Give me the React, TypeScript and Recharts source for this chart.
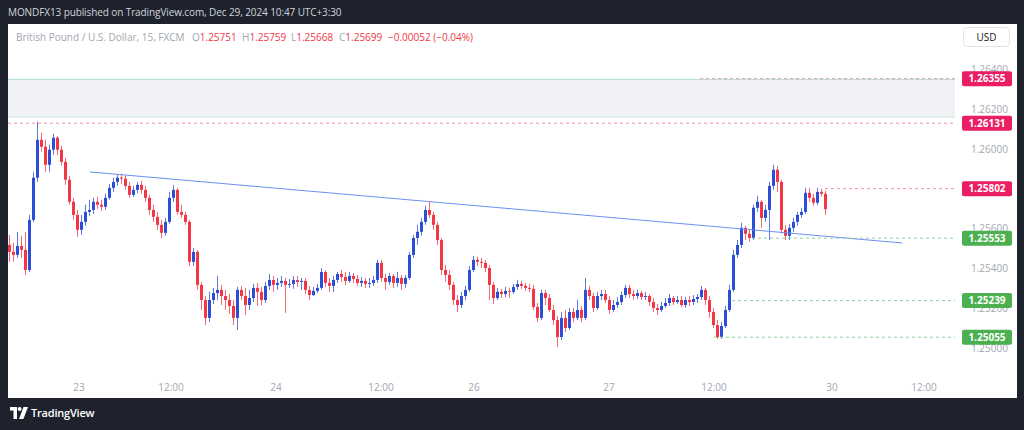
import React from "react";
import { ComposedChart, Bar, XAxis, YAxis, ReferenceLine, ReferenceArea } from "recharts";

// GBPUSD 15m, FXCM — candles as [open, high, low, close], one list per session
type Ohlc = [number, number, number, number];

const DEC22: Ohlc[] = [
  [1.25519, 1.2557, 1.25434, 1.25484], [1.25484, 1.25529, 1.25434, 1.25469], [1.25469, 1.25585, 1.25454, 1.25514],
  [1.25514, 1.25565, 1.25454, 1.25494], [1.25494, 1.25585, 1.25368, 1.25393], [1.25393, 1.2567, 1.25383, 1.25645],
  [1.25645, 1.25887, 1.25635, 1.25857], [1.25857, 1.26139, 1.25836, 1.26048], [1.26048, 1.26083, 1.25988, 1.26013],
  [1.26013, 1.26048, 1.25887, 1.25922], [1.25922, 1.26023, 1.25887, 1.25998], [1.25998, 1.26078, 1.25972, 1.26058],
  [1.26058, 1.26068, 1.25972, 1.25998], [1.25998, 1.26018, 1.25917, 1.25937], [1.25937, 1.25957, 1.25821, 1.25847],
  [1.25847, 1.25867, 1.25721, 1.25736], [1.25736, 1.25756, 1.25645, 1.2567],
];

const DEC23: Ohlc[] = [
  [1.2567, 1.25695, 1.2556, 1.25595], [1.25595, 1.2567, 1.2557, 1.25635], [1.25635, 1.25721, 1.25615, 1.25685],
  [1.25685, 1.25746, 1.25665, 1.25695], [1.25695, 1.25756, 1.25675, 1.25736], [1.25736, 1.25761, 1.257, 1.25721],
  [1.25721, 1.25746, 1.2569, 1.25711], [1.25711, 1.25776, 1.25695, 1.25756], [1.25756, 1.25826, 1.25746, 1.25806],
  [1.25806, 1.25857, 1.25786, 1.25836], [1.25836, 1.25872, 1.25816, 1.25857], [1.25857, 1.25877, 1.25826, 1.25852],
  [1.25852, 1.25867, 1.25796, 1.25816], [1.25816, 1.25836, 1.25756, 1.25771], [1.25771, 1.25816, 1.25761, 1.25796],
  [1.25796, 1.25836, 1.25781, 1.25821], [1.25821, 1.25842, 1.25776, 1.25796], [1.25796, 1.25816, 1.25736, 1.25756],
  [1.25756, 1.25771, 1.2567, 1.25695], [1.25695, 1.25721, 1.25635, 1.2566], [1.2566, 1.25685, 1.25595, 1.2562],
  [1.2562, 1.25645, 1.25554, 1.2558], [1.2558, 1.25655, 1.25565, 1.25635], [1.25635, 1.25786, 1.25625, 1.25756],
  [1.25756, 1.25821, 1.25736, 1.25796], [1.25796, 1.25806, 1.2567, 1.25685], [1.25685, 1.25721, 1.25655, 1.2567],
  [1.2567, 1.25685, 1.2562, 1.25635], [1.25635, 1.25645, 1.25413, 1.25434], [1.25434, 1.25504, 1.25413, 1.25484],
  [1.25484, 1.25494, 1.25293, 1.25318], [1.25318, 1.25333, 1.25192, 1.25242], [1.25242, 1.25262, 1.25116, 1.25152],
  [1.25152, 1.25283, 1.25131, 1.25242], [1.25242, 1.25303, 1.25222, 1.25277], [1.25277, 1.25363, 1.25242, 1.25293],
  [1.25293, 1.25318, 1.25217, 1.25262], [1.25262, 1.25293, 1.25192, 1.25242], [1.25242, 1.25272, 1.25172, 1.25212],
  [1.25212, 1.25242, 1.25116, 1.25152], [1.25152, 1.25308, 1.25091, 1.25293], [1.25293, 1.25313, 1.25242, 1.25262],
  [1.25262, 1.25303, 1.25167, 1.25217], [1.25217, 1.25293, 1.25192, 1.25252], [1.25252, 1.25323, 1.25232, 1.25303],
  [1.25303, 1.25328, 1.25212, 1.25283], [1.25283, 1.25308, 1.25217, 1.25242], [1.25242, 1.25333, 1.25227, 1.25313],
  [1.25313, 1.25373, 1.25293, 1.25343], [1.25343, 1.25363, 1.25283, 1.25318],
];

const DEC24: Ohlc[] = [
  [1.25318, 1.25353, 1.25293, 1.25328], [1.25328, 1.25363, 1.25308, 1.25338], [1.25338, 1.25353, 1.25177, 1.25318],
  [1.25318, 1.25348, 1.25303, 1.25323], [1.25323, 1.25363, 1.25298, 1.25343], [1.25343, 1.25363, 1.25308, 1.25333],
  [1.25333, 1.25353, 1.25293, 1.25338], [1.25338, 1.25353, 1.25272, 1.25293], [1.25293, 1.25313, 1.25242, 1.25267],
  [1.25267, 1.25308, 1.25262, 1.25288], [1.25288, 1.25323, 1.25277, 1.25303], [1.25303, 1.25403, 1.25293, 1.25383],
  [1.25383, 1.25393, 1.25308, 1.25328], [1.25328, 1.25353, 1.25283, 1.25313], [1.25313, 1.25363, 1.25283, 1.25343],
  [1.25343, 1.25383, 1.25328, 1.25373], [1.25373, 1.25393, 1.25333, 1.25358], [1.25358, 1.25383, 1.25318, 1.25338],
  [1.25338, 1.25383, 1.25328, 1.25363], [1.25363, 1.25378, 1.25328, 1.25348], [1.25348, 1.25368, 1.25313, 1.25328],
  [1.25328, 1.25358, 1.25308, 1.25338], [1.25338, 1.25353, 1.25303, 1.25323], [1.25323, 1.25353, 1.25303, 1.25328],
  [1.25328, 1.25363, 1.25313, 1.25343], [1.25343, 1.25444, 1.25328, 1.25429], [1.25429, 1.25444, 1.25333, 1.25353],
  [1.25353, 1.25373, 1.25293, 1.25333], [1.25333, 1.25378, 1.25318, 1.25363], [1.25363, 1.25373, 1.25303, 1.25328],
  [1.25328, 1.25383, 1.25308, 1.25353], [1.25353, 1.25368, 1.25293, 1.25323], [1.25323, 1.25368, 1.25303, 1.25353],
  [1.25353, 1.25484, 1.25343, 1.25469], [1.25469, 1.2557, 1.25454, 1.25554], [1.25554, 1.2562, 1.25519, 1.25585],
  [1.25585, 1.25655, 1.25565, 1.25635], [1.25635, 1.25716, 1.2562, 1.25695], [1.25695, 1.25736, 1.25655, 1.2567],
  [1.2567, 1.25685, 1.25595, 1.2562], [1.2562, 1.25635, 1.25519, 1.25544], [1.25544, 1.25554, 1.25368, 1.25393],
  [1.25393, 1.25418, 1.25333, 1.25368], [1.25368, 1.25393, 1.25293, 1.25318], [1.25318, 1.25333, 1.25217, 1.25242],
  [1.25242, 1.25267, 1.25182, 1.25217], [1.25217, 1.25283, 1.25202, 1.25262], [1.25262, 1.25313, 1.25242, 1.25293],
  [1.25293, 1.25413, 1.25283, 1.25393],
];

const DEC26: Ohlc[] = [
  [1.25393, 1.25464, 1.25383, 1.25444], [1.25444, 1.25459, 1.25413, 1.25434], [1.25434, 1.25454, 1.25403, 1.25429],
  [1.25429, 1.25444, 1.25383, 1.25403], [1.25403, 1.25418, 1.25242, 1.25318], [1.25318, 1.25333, 1.25222, 1.25252],
  [1.25252, 1.25303, 1.25242, 1.25283], [1.25283, 1.25298, 1.25252, 1.25272], [1.25272, 1.25308, 1.25257, 1.25288],
  [1.25288, 1.25303, 1.25252, 1.25283], [1.25283, 1.25323, 1.25272, 1.25308], [1.25308, 1.25343, 1.25293, 1.25323],
  [1.25323, 1.25338, 1.25298, 1.25313], [1.25313, 1.25328, 1.25288, 1.25303], [1.25303, 1.25323, 1.25283, 1.25298],
  [1.25298, 1.25318, 1.25192, 1.25207], [1.25207, 1.25227, 1.25131, 1.25152], [1.25152, 1.25293, 1.25141, 1.25277],
  [1.25277, 1.25293, 1.25217, 1.25252], [1.25252, 1.25272, 1.25182, 1.25192], [1.25192, 1.25217, 1.25116, 1.25141],
  [1.25141, 1.25162, 1.25006, 1.25056], [1.25056, 1.25182, 1.25041, 1.25152], [1.25152, 1.25192, 1.25081, 1.25101],
  [1.25101, 1.25202, 1.25091, 1.25182], [1.25182, 1.25202, 1.25131, 1.25152], [1.25152, 1.25242, 1.25141, 1.25192],
  [1.25192, 1.25212, 1.25131, 1.25152], [1.25152, 1.25353, 1.25141, 1.25293], [1.25293, 1.25313, 1.25242, 1.25262],
  [1.25262, 1.25277, 1.25182, 1.25202], [1.25202, 1.25283, 1.25192, 1.25262], [1.25262, 1.25293, 1.25242, 1.25272],
  [1.25272, 1.25293, 1.25227, 1.25242],
];

const DEC27: Ohlc[] = [
  [1.25242, 1.25262, 1.25172, 1.25192], [1.25192, 1.25242, 1.25182, 1.25217], [1.25217, 1.25257, 1.25202, 1.25232],
  [1.25232, 1.25283, 1.25217, 1.25267], [1.25267, 1.25318, 1.25252, 1.25303], [1.25303, 1.25318, 1.25252, 1.25272],
  [1.25272, 1.25293, 1.25242, 1.25262], [1.25262, 1.25293, 1.25247, 1.25277], [1.25277, 1.25288, 1.25242, 1.25257],
  [1.25257, 1.25283, 1.25242, 1.25262], [1.25262, 1.25272, 1.25212, 1.25232], [1.25232, 1.25252, 1.25182, 1.25202],
  [1.25202, 1.25222, 1.25167, 1.25192], [1.25192, 1.25232, 1.25182, 1.25212], [1.25212, 1.25252, 1.25202, 1.25227],
  [1.25227, 1.25272, 1.25212, 1.25252], [1.25252, 1.25262, 1.25217, 1.25232], [1.25232, 1.25262, 1.25222, 1.25242],
  [1.25242, 1.25262, 1.25207, 1.25217], [1.25217, 1.25257, 1.25202, 1.25242], [1.25242, 1.25262, 1.25212, 1.25232],
  [1.25232, 1.25267, 1.25217, 1.25247], [1.25247, 1.25272, 1.25227, 1.25257], [1.25257, 1.25313, 1.25242, 1.25293],
  [1.25293, 1.25303, 1.25217, 1.25242], [1.25242, 1.25262, 1.25152, 1.25182], [1.25182, 1.25202, 1.25101, 1.25116],
  [1.25116, 1.25141, 1.25046, 1.25056], [1.25056, 1.25131, 1.25046, 1.25111], [1.25111, 1.25212, 1.25101, 1.25192],
  [1.25192, 1.25318, 1.25182, 1.25293], [1.25293, 1.25494, 1.25283, 1.25469], [1.25469, 1.25544, 1.25454, 1.25519],
  [1.25519, 1.2563, 1.25504, 1.25605], [1.25605, 1.25615, 1.25544, 1.25575], [1.25575, 1.25595, 1.25534, 1.25554],
  [1.25554, 1.25721, 1.25544, 1.25706], [1.25706, 1.25766, 1.25685, 1.25736], [1.25736, 1.25746, 1.25605, 1.25655],
  [1.25655, 1.25721, 1.25635, 1.25695], [1.25695, 1.25836, 1.25544, 1.25816], [1.25816, 1.25922, 1.25796, 1.25897],
  [1.25897, 1.25917, 1.25786, 1.25836], [1.25836, 1.25847, 1.25575, 1.25595], [1.25595, 1.2562, 1.25544, 1.25565],
  [1.25565, 1.25625, 1.25544, 1.25605], [1.25605, 1.25655, 1.25585, 1.25635], [1.25635, 1.25685, 1.25615, 1.2567],
  [1.2567, 1.25706, 1.25655, 1.25685], [1.25685, 1.25806, 1.25675, 1.25781], [1.25781, 1.25806, 1.25736, 1.25756],
  [1.25756, 1.25776, 1.25716, 1.25731], [1.25731, 1.25806, 1.25721, 1.25786], [1.25786, 1.25801, 1.25761, 1.25776],
  [1.25776, 1.25791, 1.2567, 1.25699],
];

// time axis (bar index) and its labels
const TIME_AT = [17.25, 40.25, 66.5, 92.75, 116, 149.75, 176, 205.5, 228.5];
const TIME_LABELS = ["23", "12:00", "24", "12:00", "26", "27", "12:00", "30", "12:00"];
const BAR_RANGE: [number, number] = [-0.5, 236.25];

// 1.25800 sits fully under the 1.25802 tag, so it is left out
const PRICE_TICKS = [1.25, 1.252, 1.254, 1.256, 1.26, 1.262, 1.264];
const PRICE_RANGE: [number, number] = [1.2488, 1.2663];

// drawings
const RESIST_LEVELS = [1.26355, 1.26131, 1.25802];
const RESIST_FROM = [172.5, -0.5, 203.75];
const SUPPORT_LEVELS = [1.25553, 1.25239, 1.25055];
const SUPPORT_FROM = [185.5, 180.5, 176];
const ZONE = [1.26162, 1.26352];
const TREND_AT = [20, 223];
const TREND_PRICE = [1.25886, 1.25529];

const UP = "#2a4fd6";
const DOWN = "#f23645";
const AXIS_TEXT = "#a3a6af";
const FONT = "'Open Sans', sans-serif";
const CHART_W = 1010;
const CHART_H = 398;
const MARGIN = { top: 24, right: 0, bottom: 0, left: 0 };

const candles = [DEC22, DEC23, DEC24, DEC26, DEC27]
  .flat()
  .map((c, i) => ({ i, open: c[0], high: c[1], low: c[2], close: c[3] }));

function Candle(props: any) {
  const { x, y, width, height, payload } = props;
  if (!payload || height == null) return null;
  const { open, high, low, close } = payload;
  const color = close >= open ? UP : DOWN;
  const span = high - low || 1e-9;
  const at = (v: number) => y + ((high - v) / span) * height;
  const top = at(Math.max(open, close));
  const bottom = at(Math.min(open, close));
  const rx = Math.round(x);
  const w = Math.max(1, Math.round(width));
  const cx = rx + Math.floor(w / 2) + 0.5;
  return (
    <g>
      <line x1={cx} x2={cx} y1={y} y2={y + height} stroke={color} strokeWidth={1} strokeOpacity={0.75} />
      <rect x={rx} y={top} width={w} height={Math.max(1, bottom - top)} fill={color} />
    </g>
  );
}

const priceTag = (value: number, color: string) => (props: any) => {
  const vb = props.viewBox;
  if (!vb) return null;
  const x = vb.x + vb.width + 7;
  const y = vb.y;
  return (
    <g>
      <rect x={x} y={y - 7.5} width={50} height={15} rx={2} fill={color} />
      <text x={x + 25} y={y} dy="0.36em" textAnchor="middle" fill="#fff" fontSize={10} fontWeight={700} fontFamily={FONT}>
        {value.toFixed(5)}
      </text>
    </g>
  );
};

// both layers share the same axes so the scales line up exactly
function axes(showTicks: boolean) {
  return [
    <XAxis
      key="x"
      dataKey="i"
      type="number"
      domain={BAR_RANGE}
      allowDataOverflow
      ticks={TIME_AT}
      interval={0}
      tickFormatter={(v: number) => TIME_LABELS[TIME_AT.indexOf(v)] ?? ""}
      tick={showTicks ? { fill: AXIS_TEXT, fontSize: 10, fontFamily: FONT } : false}
      tickLine={false}
      axisLine={false}
      tickSize={0}
      tickMargin={12}
      height={26}
    />,
    <YAxis
      key="y"
      orientation="right"
      type="number"
      domain={PRICE_RANGE}
      allowDataOverflow
      ticks={PRICE_TICKS}
      interval={0}
      tickFormatter={(v: number) => v.toFixed(5)}
      tick={showTicks ? { fill: AXIS_TEXT, fontSize: 10, fontFamily: FONT } : false}
      tickLine={false}
      axisLine={false}
      tickSize={0}
      tickMargin={16}
      width={63}
    />,
  ];
}

function TvLogo() {
  return (
    <svg width={18} height={12} viewBox="0 0 18 12" style={{ position: "absolute", left: 10, top: 407 }}>
      <path d="M0 0h7v12H3.5V3.5H0z" fill="#fff" />
      <circle cx={9.6} cy={2} r={2} fill="#fff" />
      <path d="M13.5 0H18l-4.6 12H9z" fill="#fff" />
    </svg>
  );
}

export default function App() {
  const legendLabel: React.CSSProperties = { color: "#a3a6af" };
  const legendValue: React.CSSProperties = { color: DOWN };
  return (
    <div style={{ position: "absolute", left: 0, top: 0, width: 1024, height: 430, background: "#1e222d", fontFamily: FONT, overflow: "hidden" }}>
      <div style={{ position: "absolute", left: 8, top: 5, fontSize: 10, letterSpacing: -0.1, color: "#d1d4dc", whiteSpace: "nowrap" }}>
        MONDFX13 published on TradingView.com, Dec 29, 2024 10:47 UTC+3:30
      </div>
      <div style={{ position: "absolute", left: 8, top: 24, width: 1009, height: 374, background: "#ffffff" }} />
      <div style={{ position: "absolute", left: 8, top: 0 }}>
        <ComposedChart width={CHART_W} height={CHART_H} data={candles} margin={MARGIN}>
          <ReferenceArea y1={ZONE[0]} y2={ZONE[1]} fill="#f1f2f5" fillOpacity={1} stroke="none" />
          <ReferenceLine y={ZONE[1]} stroke="#a8dcd3" strokeWidth={1} />
          <ReferenceLine y={ZONE[0]} stroke="#c5e6e1" strokeWidth={1} />
          {axes(true)}
          <ReferenceLine
            segment={[{ x: TREND_AT[0], y: TREND_PRICE[0] }, { x: TREND_AT[1], y: TREND_PRICE[1] }]}
            stroke="#6b8ff5"
            strokeWidth={1}
          />
          <Bar
            dataKey={(d: any) => [d.low, d.high]}
            barSize={3}
            shape={Candle}
            isAnimationActive={false}
          />
        </ComposedChart>
      </div>
      {/* price levels and their tags, drawn over the price scale */}
      <div style={{ position: "absolute", left: 8, top: 0 }}>
        <ComposedChart width={CHART_W} height={CHART_H} data={candles} margin={MARGIN}>
          {axes(false)}
          {RESIST_LEVELS.map((p, k) => (
            <ReferenceLine
              key={"r" + k}
              segment={[{ x: RESIST_FROM[k], y: p }, { x: BAR_RANGE[1], y: p }]}
              stroke="#f48fb1"
              strokeDasharray="3 3"
              strokeWidth={1}
              label={priceTag(p, "#e91e63")}
            />
          ))}
          {SUPPORT_LEVELS.map((p, k) => (
            <ReferenceLine
              key={"s" + k}
              segment={[{ x: SUPPORT_FROM[k], y: p }, { x: BAR_RANGE[1], y: p }]}
              stroke="#8fd19e"
              strokeDasharray="3 3"
              strokeWidth={1}
              label={priceTag(p, "#4caf50")}
            />
          ))}
        </ComposedChart>
      </div>
      <div style={{ position: "absolute", top: 30, left: 16, fontSize: 10, whiteSpace: "nowrap", height: 14, width: 470 }}>
        <span style={{ position: "absolute", left: 0, ...legendLabel }}>British Pound / U.S. Dollar, 15, FXCM</span>
        <span style={{ position: "absolute", left: 176 }}><span style={legendLabel}>O</span><span style={legendValue}>1.25751</span></span>
        <span style={{ position: "absolute", left: 226 }}><span style={legendLabel}>H</span><span style={legendValue}>1.25759</span></span>
        <span style={{ position: "absolute", left: 275 }}><span style={legendLabel}>L</span><span style={legendValue}>1.25668</span></span>
        <span style={{ position: "absolute", left: 323 }}><span style={legendLabel}>C</span><span style={legendValue}>1.25699</span></span>
        <span style={{ position: "absolute", left: 372, ...legendValue }}>−0.00052 (−0.04%)</span>
      </div>
      <div style={{ position: "absolute", left: 963, top: 27, width: 47, height: 20, border: "1px solid #e0e3eb", borderRadius: 4, boxSizing: "border-box", fontSize: 10, color: "#131722", display: "flex", alignItems: "center", justifyContent: "center" }}>
        USD
      </div>
      <TvLogo />
      <div style={{ position: "absolute", left: 31, top: 405, fontSize: 11, fontWeight: 600, color: "#ffffff", letterSpacing: -0.2 }}>
        TradingView
      </div>
    </div>
  );
}
